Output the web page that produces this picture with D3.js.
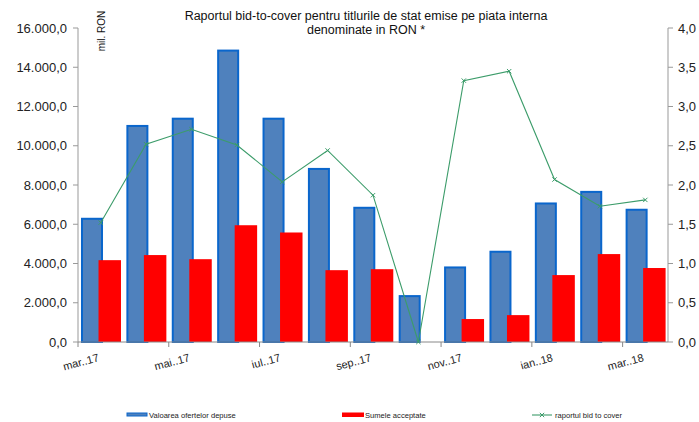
<!DOCTYPE html>
<html>
<head>
<meta charset="utf-8">
<script src="https://cdn.jsdelivr.net/npm/d3@7"></script>
<style>
  html, body { margin: 0; padding: 0; background: #ffffff; }
  svg { display: block; font-family: 'Liberation Sans', Arial, sans-serif; }
</style>
</head>
<body>
<div id="content"></div>
<script>
// luni (mar.17 - mar.18)
const luni = ['mar..17', 'apr..17', 'mai..17', 'iun..17', 'iul..17', 'aug..17', 'sep..17',
              'oct..17', 'nov..17', 'dec..17', 'ian..18', 'feb..18', 'mar..18'];
// etichete afisate pe axa x (din doua in doua luni)
const eticheteX = ['mar..17', 'mai..17', 'iul..17', 'sep..17', 'nov..17', 'ian..18', 'mar..18'];
// mil. RON
const oferteDepuse = [6330, 11060, 11430, 14900, 11430, 8870, 6890, 2390, 3850, 4650, 7110, 7700, 6790];
const sumeAcceptate = [4170, 4430, 4220, 5950, 5580, 3660, 3710, 0, 1170, 1370, 3410, 4480, 3770];
// raport
const bidToCover = [1.52, 2.52, 2.71, 2.51, 2.04, 2.44, 1.87, 0, 3.33, 3.45, 2.07, 1.73, 1.81];
const ticksStanga = [0, 2000, 4000, 6000, 8000, 10000, 12000, 14000, 16000];
const ticksDreapta = [0, 0.5, 1, 1.5, 2, 2.5, 3, 3.5, 4];

const width = 699, height = 422;
const mLeft = 78, mRight = 668, mTop = 28, mBottom = 342;

const fmtStanga = v => d3.format(',.1f')(v).replace(/,/g, 'X').replace('.', ',').replace(/X/g, '.');
const fmtDreapta = v => d3.format('.1f')(v).replace('.', ',');

const svg = d3.select('#content').append('svg')
    .attr('width', width)
    .attr('height', height);

const x = d3.scaleBand().domain(d3.range(luni.length)).range([mLeft, mRight]).padding(0);
const y = d3.scaleLinear().domain([0, 16000]).range([mBottom, mTop]);
const y2 = d3.scaleLinear().domain([0, 4]).range([mBottom, mTop]);
const bw = x.bandwidth();

// bare albastre - valoarea ofertelor
svg.append('g').selectAll('rect')
    .data(oferteDepuse)
    .enter().append('rect')
    .attr('x', (d, i) => x(i) + bw * 0.066 + 1)
    .attr('y', d => y(d) + 1)
    .attr('width', bw * 0.485 - 2)
    .attr('height', d => mBottom - y(d) - 1)
    .attr('fill', '#4f81bd')
    .attr('stroke', '#0a66cc')
    .attr('stroke-width', 2);

// bare rosii - sumele acceptate
svg.append('g').selectAll('rect')
    .data(sumeAcceptate)
    .enter().append('rect')
    .attr('x', (d, i) => x(i) + bw * 0.452)
    .attr('y', d => y(d))
    .attr('width', bw * 0.495)
    .attr('height', d => mBottom - y(d))
    .attr('fill', '#ff0000');

// axa stanga
svg.append('line').attr('x1', mLeft).attr('x2', mLeft).attr('y1', mTop).attr('y2', mBottom)
    .attr('stroke', '#999999');
const gS = svg.append('g').selectAll('g').data(ticksStanga).enter().append('g');
gS.append('line').attr('x1', mLeft - 5).attr('x2', mLeft).attr('y1', d => y(d)).attr('y2', d => y(d))
    .attr('stroke', '#999999');
gS.append('text')
    .attr('x', mLeft - 11)
    .attr('y', d => y(d) + 4.5)
    .attr('text-anchor', 'end')
    .style('font-size', '13px')
    .attr('fill', '#222')
    .text(fmtStanga);

// axa dreapta
svg.append('line').attr('x1', mRight).attr('x2', mRight).attr('y1', mTop).attr('y2', mBottom)
    .attr('stroke', '#999999');
const gD = svg.append('g').selectAll('g').data(ticksDreapta).enter().append('g');
gD.append('line').attr('x1', mRight).attr('x2', mRight + 5).attr('y1', d => y2(d)).attr('y2', d => y2(d))
    .attr('stroke', '#999999');
gD.append('text')
    .attr('x', mRight + 10)
    .attr('y', d => y2(d) + 4.5)
    .style('font-size', '13px')
    .attr('fill', '#222')
    .text(fmtDreapta);

// axa x
svg.append('line').attr('x1', mLeft).attr('x2', mRight).attr('y1', mBottom).attr('y2', mBottom)
    .attr('stroke', '#888888');
svg.append('g').selectAll('line')
    .data(eticheteX)
    .enter().append('line')
    .attr('x1', d => x(luni.indexOf(d)))
    .attr('x2', d => x(luni.indexOf(d)))
    .attr('y1', mBottom)
    .attr('y2', mBottom + 5)
    .attr('stroke', '#888888');
svg.append('g').selectAll('text')
    .data(eticheteX)
    .enter().append('text')
    .attr('text-anchor', 'end')
    .attr('transform', d => `translate(${x(luni.indexOf(d)) + bw / 2 - 1}, ${mBottom + 19}) rotate(-15)`)
    .style('font-size', '11px')
    .attr('fill', '#222')
    .text(d => d);

// linia bid-to-cover
const linie = d3.line()
    .x((d, i) => x(i) + bw / 2)
    .y(d => y2(d));
svg.append('path')
    .datum(bidToCover)
    .attr('d', linie)
    .attr('fill', 'none')
    .attr('stroke', '#3c9c6a')
    .attr('stroke-width', 1.1);
const marker = d3.symbol().type(d3.symbolX).size(14);
svg.append('g').selectAll('path')
    .data(bidToCover)
    .enter().append('path')
    .attr('d', marker)
    .attr('transform', (d, i) => `translate(${x(i) + bw / 2}, ${y2(d)})`)
    .attr('fill', 'none')
    .attr('stroke', '#3c9c6a')
    .attr('stroke-width', 1);

// titlu
const titlu = svg.append('text')
    .attr('text-anchor', 'middle')
    .style('font-size', '12.5px')
    .attr('fill', '#111');
titlu.append('tspan').attr('x', 366).attr('y', 19.5)
    .text('Raportul bid-to-cover pentru titlurile de stat emise pe piata interna');
titlu.append('tspan').attr('x', 366).attr('y', 33.5)
    .text('denominate in RON *');

// unitate
svg.append('text')
    .attr('transform', 'translate(105, 31) rotate(-90)')
    .attr('text-anchor', 'middle')
    .style('font-size', '10px')
    .attr('fill', '#111')
    .text('mil. RON');

// legenda
const legY = 415;
svg.append('rect').attr('x', 127).attr('y', legY - 2).attr('width', 20).attr('height', 3)
    .attr('fill', '#4f81bd').attr('stroke', '#0a66cc').attr('stroke-width', 1);
svg.append('text').attr('x', 149).attr('y', legY + 2.5).style('font-size', '7.6px').attr('fill', '#222')
    .text('Valoarea ofertelor depuse');
svg.append('rect').attr('x', 342).attr('y', legY - 2.5).attr('width', 22).attr('height', 4.5)
    .attr('fill', '#ff0000');
svg.append('text').attr('x', 365).attr('y', legY + 2.5).style('font-size', '7.6px').attr('fill', '#222')
    .text('Sumele acceptate');
svg.append('line').attr('x1', 532).attr('x2', 552).attr('y1', legY).attr('y2', legY)
    .attr('stroke', '#3c9c6a').attr('stroke-width', 1.1);
svg.append('path').attr('d', marker).attr('transform', `translate(542, ${legY})`)
    .attr('fill', 'none').attr('stroke', '#3c9c6a');
svg.append('text').attr('x', 555).attr('y', legY + 2.5).style('font-size', '7.6px').attr('fill', '#222')
    .text('raportul bid to cover');
</script>
</body>
</html>
